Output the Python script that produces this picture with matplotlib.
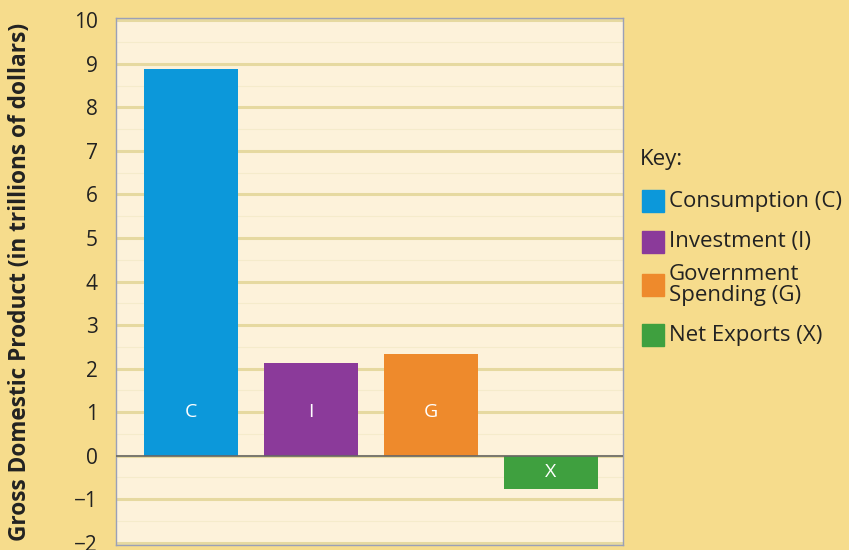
import matplotlib
matplotlib.use("Agg")
import matplotlib.pyplot as plt
from matplotlib.patches import Rectangle

categories = ["Consumption (C)", "Investment (I)", "Government\nSpending (G)", "Net Exports (X)"]
bar_labels = ["C", "I", "G", "X"]
values = [8.87, 2.14, 2.34, -0.76]
colors = ["#0C98DA", "#8B3A9A", "#EE8A2C", "#3FA03F"]
yticks = list(range(-2, 11))

plt.rcParams['font.family'] = ['Open Sans', 'DejaVu Sans']

fig = plt.figure(figsize=(8.49, 5.5), dpi=100)
fig.patch.set_facecolor("#F6DC8C")
ax = fig.add_axes([116/849, 1-545/550, (623-116)/849, (545-18)/550])
ax.set_facecolor("#FDF2DA")

x = list(range(len(values)))
ax.bar(x, values, width=0.79, color=colors, zorder=3)
for xi, v, lab in zip(x, values, bar_labels):
    ypos = 1.0 if v > 0 else v / 2
    ax.text(xi, ypos, lab, color="white", ha="center", va="center", fontsize=14, zorder=4)

ax.set_xlim(-0.625, 3.6)
ax.set_ylim(-2.05, 10.05)
ax.set_yticks(yticks)
ax.set_yticklabels([str(t).replace("-", "\u2212") for t in yticks], fontsize=15)
ax.set_yticks([t + 0.5 for t in yticks[:-1]], minor=True)
ax.set_xticks([])
ax.grid(axis="y", which="major", color="#E6D9A0", linewidth=2.2, zorder=1)
ax.grid(axis="y", which="minor", color="#F5EBCB", linewidth=0.8, zorder=1)
ax.axhline(0, color="#666666", linewidth=1.2, zorder=5)
ax.tick_params(axis="y", which="both", length=0)
ax.tick_params(axis="y", which="major", pad=13, labelcolor="#222222")
for s in ax.spines.values():
    s.set_color("#9AA0B8")
    s.set_linewidth(1.0)
ax.set_ylabel("Gross Domestic Product (in trillions of dollars)", fontsize=16.3,
              fontweight="bold", color="#222222")
ax.yaxis.set_label_coords(-84/507, 0.5)

# Key
fig.text(640/849, 1-159/550, "Key:", fontsize=16, color="#222222", va="center", ha="left")
rows = [201, 242, 285, 335]
for c, lab, yc in zip(colors, categories, rows):
    fig.patches.append(Rectangle((642/849, 1-(yc+11)/550), 22/849, 22/550,
                                 transform=fig.transFigure, color=c, figure=fig))
    fig.text(669/849, 1-yc/550, lab, fontsize=16, color="#222222", va="center", ha="left",
             linespacing=1.0)

fig.savefig("out.png", dpi=100, facecolor=fig.get_facecolor())
